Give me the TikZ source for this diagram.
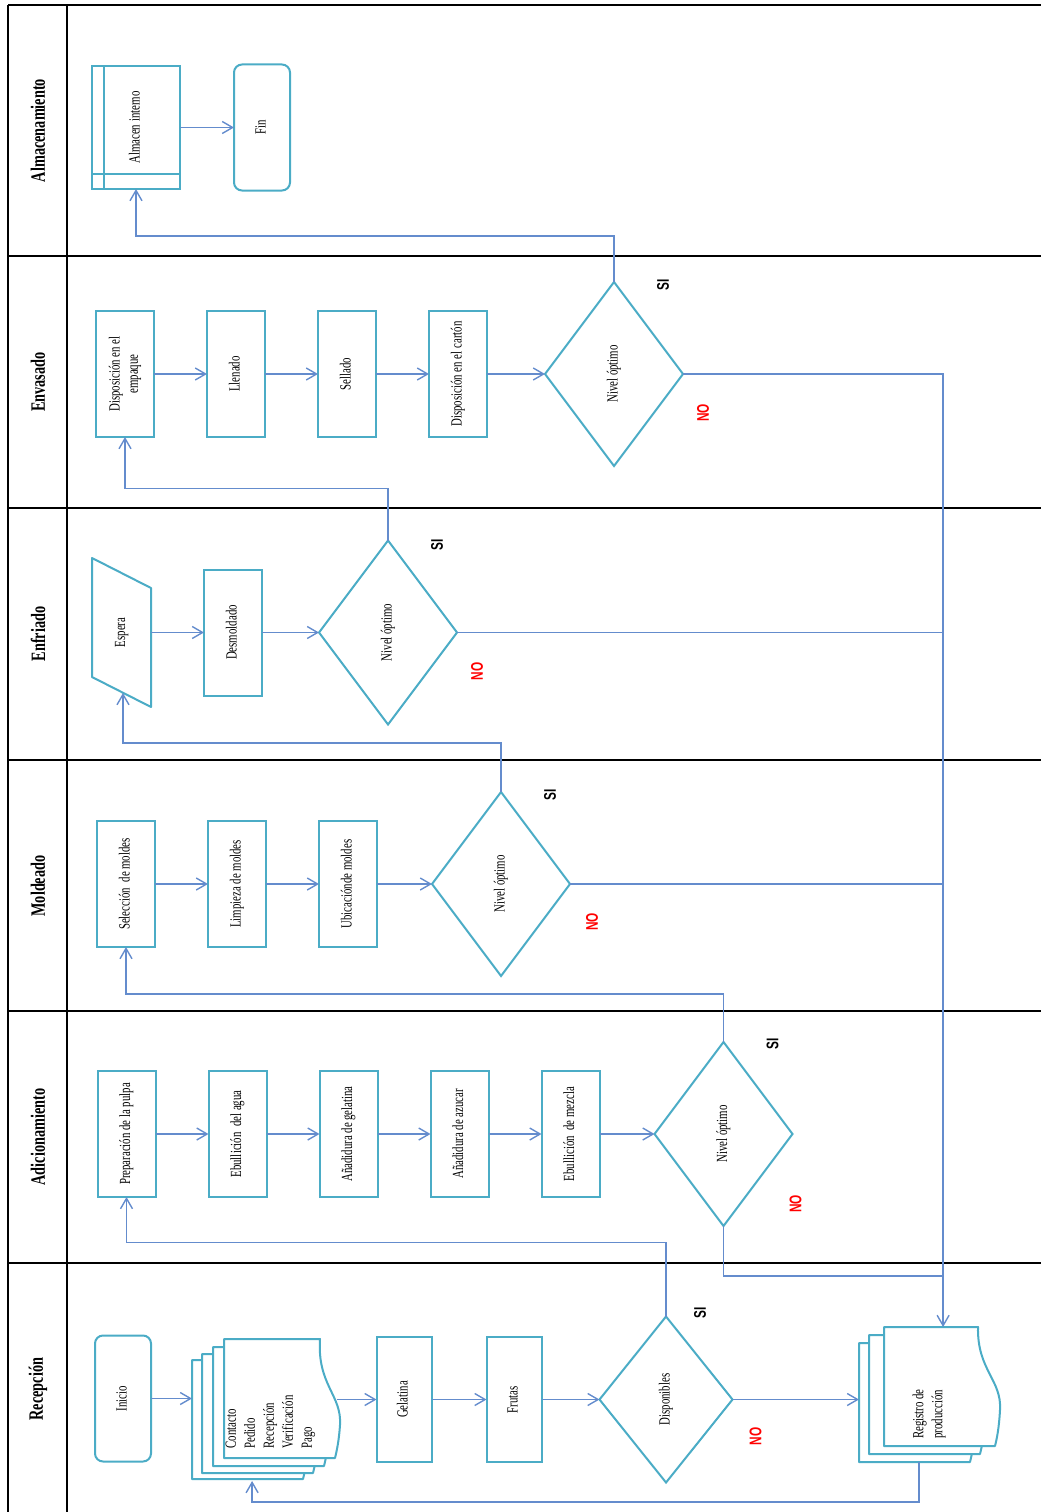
\documentclass[tikz,border=0pt]{standalone}
\usepackage{fontspec}
\setmainfont{Liberation Serif}[FakeStretch=0.7]
\newfontfamily\answerfont{Liberation Sans}[FakeStretch=0.7]
\usepackage{graphicx}
\usepackage{tikz}
\usetikzlibrary{arrows.meta,positioning,shapes.geometric,fit}

\definecolor{shapeteal}{RGB}{75,172,198}
\definecolor{flowblue}{RGB}{100,140,205}
\definecolor{noRed}{RGB}{255,0,0}

\newcommand{\vtext}[1]{\rotatebox{90}{\begin{tabular}{@{}c@{}}#1\end{tabular}}}
\newcommand{\vtextl}[1]{\rotatebox{90}{\begin{tabular}{@{}l@{}}#1\end{tabular}}}

\begin{document}
\begin{tikzpicture}[
    x=0.25mm, y=-0.25mm,
    node distance=13.25mm,
    lane/.style={draw=black, line width=0.7mm},
    lanetitle/.style={inner sep=0pt, font=\fontsize{14.5}{17}\selectfont\bfseries},
    task/.style={draw=shapeteal, line width=0.5mm, fill=white, minimum width=14.5mm, minimum height=31.5mm, inner sep=0pt, outer sep=0pt, font=\fontsize{11}{13}\selectfont},
    terminal/.style={task, rounded corners=2mm, minimum width=14mm},
    check/.style={draw=shapeteal, line width=0.5mm, diamond, fill=white, minimum width=34.5mm, minimum height=46mm, inner sep=0pt, outer sep=0pt, font=\fontsize{11}{13}\selectfont},
    docshape/.style={draw=shapeteal, line width=0.5mm, fill=white, line join=round},
    hull/.style={inner sep=0pt, outer sep=0pt},
    doctext/.style={inner sep=0pt, font=\fontsize{11}{13.5}\selectfont},
    flow/.style={draw=flowblue, line width=0.35mm, -{Straight Barb[length=2.6mm, width=3mm]}},
    flowline/.style={draw=flowblue, line width=0.35mm},
    sitag/.style={inner sep=0pt, font=\answerfont\fontsize{12}{14}\selectfont\bfseries},
    notag/.style={sitag, text=noRed}
]
\useasboundingbox (0,0) rectangle (1041,1512);

% Lanes
\draw[lane] (8,5) -- (1041,5);
\draw[lane] (8,256) -- (1041,256);
\draw[lane] (8,508) -- (1041,508);
\draw[lane] (8,760) -- (1041,760);
\draw[lane] (8,1011) -- (1041,1011);
\draw[lane] (8,1263) -- (1041,1263);
\draw[lane, line width=0.5mm] (8,5) -- (8,1512);
\draw[lane] (67,5) -- (67,1512);

\node[lanetitle] (lanealm) at (38,130.5) {\rotatebox{90}{Almacenamiento}};
\node[lanetitle] (laneenv) at (38,382) {\rotatebox{90}{Envasado}};
\node[lanetitle] (laneenf) at (38,634) {\rotatebox{90}{Enfriado}};
\node[lanetitle] (lanemol) at (38,886) {\rotatebox{90}{Moldeado}};
\node[lanetitle] (laneadi) at (38,1137) {\rotatebox{90}{Adicionamiento}};
\node[lanetitle] (lanerec) at (38,1389) {\rotatebox{90}{Recepción}};

% Almacenamiento
\node[task, minimum width=22mm, minimum height=30.75mm] (almacen) at (136,127.5) {\vtext{Almacen interno}};
\draw[draw=shapeteal, line width=0.5mm] ([xshift=3mm]almacen.north west) -- ([xshift=3mm]almacen.south west);
\draw[draw=shapeteal, line width=0.5mm] ([yshift=3.75mm]almacen.south west) -- ([yshift=3.75mm]almacen.south east);
\node[terminal, right=13.5mm of almacen] (fin) {\vtext{Fin}};

% Envasado
\node[task] (empaque) at (125,374) {\vtext{Disposición en el\\empaque}};
\node[task, right=of empaque] (llenado) {\vtext{Llenado}};
\node[task, right=of llenado] (sellado) {\vtext{Sellado}};
\node[task, right=of sellado] (carton) {\vtext{Disposición en el cartón}};
\node[check, right=14.5mm of carton] (checkenv) {\vtext{Nivel óptimo}};

% Enfriado
\node[task, draw=none, minimum width=14.75mm, minimum height=37.25mm] (espera) at (121.5,632.5) {\vtext{Espera}};
\draw[draw=shapeteal, line width=0.5mm, line join=round] (espera.north west) -- ([yshift=-7.5mm]espera.north east) -- (espera.south east) -- ([yshift=7.5mm]espera.south west) -- cycle;
\coordinate (esperain) at (123,693);
\node[task, right=of espera] (desmoldado) {\vtext{Desmoldado}};
\node[check, right=14.25mm of desmoldado] (checkenf) {\vtext{Nivel óptimo}};

% Moldeado
\node[task] (seleccion) at (126,884) {\vtext{Selección\ \ de moldes}};
\node[task, right=of seleccion] (limpieza) {\vtext{Limpieza de moldes}};
\node[task, right=of limpieza] (ubicacion) {\vtext{Ubicaciónde moldes}};
\node[check, right=13.75mm of ubicacion] (checkmol) {\vtext{Nivel óptimo}};

% Adicionamiento
\node[task] (pulpa) at (126.5,1134) {\vtext{Preparación de la pulpa}};
\node[task, right=of pulpa] (agua) {\vtext{Ebullición\ \ del agua}};
\node[task, right=of agua] (gelatinaadd) {\vtext{Añadidura de gelatina}};
\node[task, right=of gelatinaadd] (azucar) {\vtext{Añadidura de azucar}};
\node[task, right=of azucar] (mezcla) {\vtext{Ebullición\ \ de mezcla}};
\node[check, right=13.75mm of mezcla] (checkadi) {\vtext{Nivel óptimo}};

% Recepción
\node[terminal] (inicio) at (123,1398.5) {\vtext{Inicio}};
\foreach \dx/\dy in {-32/21, -22/15, -11/8, 0/0}
  \draw[docshape, shift={(\dx,\dy)}] (224,1339) -- (320,1339) .. controls (317,1385) and (342,1395) .. (340,1425) .. controls (339,1440) and (337,1450) .. (335,1458) -- (224,1458) -- cycle;
\node[hull, fit={(192,1339) (337,1481)}] (pedidos) {};
\node[doctext] (pedidostext) at (270,1422) {\vtextl{Contacto\\Pedido\\Recepción\\Verificación\\Pago}};
\node[task, minimum width=13.75mm, minimum height=31.25mm] (gelatina) at (404,1399.5) {\vtext{Gelatina}};
\node[task, minimum width=13.75mm, minimum height=31.25mm, right=13.75mm of gelatina] (frutas) {\vtext{Frutas}};
\node[check, minimum width=33.25mm, minimum height=41.5mm, right=14.5mm of frutas] (disponibles) {\vtext{Disponibles}};

\foreach \dx/\dy in {-25/16, -15/8, 0/0}
  \draw[docshape, shift={(\dx,\dy)}] (884,1327) -- (978,1327) .. controls (977,1370) and (1002,1380) .. (1000,1410) .. controls (999,1428) and (997,1438) .. (995,1446) -- (884,1446) -- cycle;
\node[hull, fit={(859,1327) (1000,1462)}] (registro) {};
\node[doctext] (registrotext) at (929,1414) {\vtextl{Registro de\\producción}};
\coordinate (regin) at ([xshift=3.4mm]registro.north);

% Flow inside the lanes
\draw[flow] (almacen) -- (fin);
\draw[flow] (empaque) -- (llenado);
\draw[flow] (llenado) -- (sellado);
\draw[flow] (sellado) -- (carton);
\draw[flow] (carton) -- (checkenv);
\draw[flow] (espera) -- (desmoldado);
\draw[flow] (desmoldado) -- (checkenf);
\draw[flow] (seleccion) -- (limpieza);
\draw[flow] (limpieza) -- (ubicacion);
\draw[flow] (ubicacion) -- (checkmol);
\draw[flow] (pulpa) -- (agua);
\draw[flow] (agua) -- (gelatinaadd);
\draw[flow] (gelatinaadd) -- (azucar);
\draw[flow] (azucar) -- (mezcla);
\draw[flow] (mezcla) -- (checkadi);
\draw[flow] (inicio) -- (inicio -| pedidos.west);
\draw[flow] (pedidos.east |- gelatina) -- (gelatina);
\draw[flow] (gelatina) -- (frutas);
\draw[flow] (frutas) -- (disponibles);

% SI: on to the next lane
\draw[flow] (checkenv.north) -- ++(0,11.5mm) -| (almacen.south);
\draw[flow] (checkenf.north) -- ++(0,13mm) -| (empaque.south);
\draw[flow] (checkmol.north) -- ++(0,12.25mm) -| (esperain);
\draw[flow] (checkadi.north) -- ++(0,12mm) -| (seleccion.south);
\draw[flow] (disponibles.north) -- ++(0,18.5mm) -| (pulpa.south);

% NO: back to the production record
\draw[flow] (checkenv.east) -| (regin);
\draw[flowline] (checkenf.east) -- (checkenf.east -| regin);
\draw[flowline] (checkmol.east) -- (checkmol.east -| regin);
\draw[flowline] (checkadi.south) |- ([yshift=12.75mm]regin);
\draw[flow] (disponibles.east) -- (disponibles.east -| registro.west);
\draw[flow] ([xshift=-2.6mm]registro.south) -- ++(0,-10mm) -| ([xshift=-3.1mm]pedidos.south);

% Answer tags
\node[sitag] (sienv) at ([shift={(12.25mm,-0.75mm)}]checkenv.north) {\rotatebox{90}{SI}};
\node[notag] (noenv) at ([shift={(5mm,-9.75mm)}]checkenv.east) {\rotatebox{90}{NO}};
\node[sitag] (sienf) at ([shift={(12.25mm,-1mm)}]checkenf.north) {\rotatebox{90}{SI}};
\node[notag] (noenf) at ([shift={(5mm,-9.75mm)}]checkenf.east) {\rotatebox{90}{NO}};
\node[sitag] (simol) at ([shift={(12.25mm,-0.75mm)}]checkmol.north) {\rotatebox{90}{SI}};
\node[notag] (nomol) at ([shift={(5.5mm,-9.5mm)}]checkmol.east) {\rotatebox{90}{NO}};
\node[sitag] (siadi) at ([shift={(12.25mm,-0.5mm)}]checkadi.north) {\rotatebox{90}{SI}};
\node[notag] (noadi) at ([shift={(0.75mm,-17.5mm)}]checkadi.east) {\rotatebox{90}{NO}};
\node[sitag] (sirec) at ([shift={(8.5mm,0.9mm)}]disponibles.north) {\rotatebox{90}{SI}};
\node[notag] (norec) at ([shift={(5.75mm,-9.25mm)}]disponibles.east) {\rotatebox{90}{NO}};

\end{tikzpicture}
\end{document}
